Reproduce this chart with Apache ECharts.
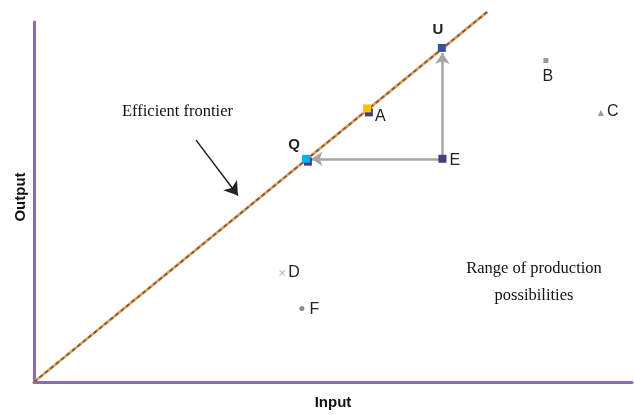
<!DOCTYPE html>
<html>
<head>
    <meta charset="utf8">
    <title>Efficient frontier</title>
    <script src="https://cdn.jsdelivr.net/npm/echarts@6/dist/echarts.min.js"></script>
</head>
<body style="margin:0">
    <div id="main" style="width:634px;height:415px;"></div>
    <script type="text/javascript">
    // frontier from origin out past the top of the axis
    var frontier = [[0, 0], [75.8, 102.8]];
    // [x, y, name]
    var pointsQ = [[45.5, 62.0, 'Q']];
    var pointsU = [[68.2, 92.8, 'U']];
    var pointsA = [[55.7, 76.0, 'A']];
    var pointsDark = [[56.0, 74.9, ''], [45.8, 61.2, ''], [68.3, 62.0, 'E']];
    var pointsB = [[85.6, 89.3, 'B']];
    var pointsC = [[94.8, 74.7, 'C']];
    var pointsD = [[41.5, 30.3, 'D']];
    var pointsF = [[44.8, 20.4, 'F']];
    // grey arrows out of E
    var arrows = [
        [[68.3, 62.0], [46.4, 62.0]],
        [[68.3, 62.0], [68.3, 91.4]]
    ];
    // black pointer under "Efficient frontier"
    var pointer = [[27.1, 67.2], [34.1, 51.8]];

    var myChart = echarts.init(document.getElementById('main'));

    var letter = { color: '#222', fontSize: 16, fontFamily: 'Liberation Sans' };
    function scatter(data, symbol, size, color, pos, extra) {
        return {
            type: 'scatter', data: data, symbol: symbol, symbolSize: size,
            itemStyle: { color: color, opacity: 1 }, z: 5,
            label: Object.assign({ show: true, position: pos, distance: 3, formatter: function (p) { return p.data[2]; } }, letter, extra || {})
        };
    }

    option = {
        animation: false,
        grid: { left: 34, right: 2, top: 22, bottom: 30 },
        xAxis: {
            type: 'value', min: 0, max: 100,
            name: 'Input', nameLocation: 'middle', nameGap: 13,
            nameTextStyle: { fontFamily: 'Liberation Sans', fontWeight: 'bold', fontSize: 15, color: '#111' },
            axisLine: { show: true, lineStyle: { color: '#8A6BB5', width: 3 } },
            axisTick: { show: false }, axisLabel: { show: false }, splitLine: { show: false }
        },
        yAxis: {
            type: 'value', min: 0, max: 100,
            name: 'Output', nameLocation: 'middle', nameGap: 6,
            nameTextStyle: { fontFamily: 'Liberation Sans', fontWeight: 'bold', fontSize: 15, color: '#111', padding: [0, 0, 0, 10] },
            axisLine: { show: true, lineStyle: { color: '#8A6BB5', width: 3 } },
            axisTick: { show: false }, axisLabel: { show: false }, splitLine: { show: false }
        },
        graphic: [
            { type: 'text', left: 122, top: 103, style: { text: 'Efficient frontier', font: '16.5px "Liberation Serif"', fill: '#111' } },
            { type: 'text', x: 534, y: 255, style: { text: 'Range of production\npossibilities', font: '16.5px "Liberation Serif"', fill: '#111', textAlign: 'center', lineHeight: 27 } }
        ],
        series: [
            { type: 'line', data: frontier, clip: false, symbol: 'none', z: 2,
              lineStyle: { color: '#D9A46A', width: 2.8 } },
            { type: 'line', data: frontier, clip: false, symbol: 'none', z: 3,
              lineStyle: { color: '#8A5A2E', width: 1.8, type: [4, 3] } },
            { type: 'lines', coordinateSystem: 'cartesian2d', z: 4,
              symbol: ['none', 'arrow'], symbolSize: 11,
              lineStyle: { color: '#A6A6A6', width: 2.5, opacity: 1 },
              data: arrows.map(function (a) { return { coords: a }; }) },
            { type: 'lines', coordinateSystem: 'cartesian2d', z: 4,
              symbol: ['none', 'arrow'], symbolSize: 13,
              lineStyle: { color: '#222', width: 1.5, opacity: 1 },
              data: [{ coords: pointer }] },
            scatter(pointsDark, 'rect', 8, '#4B3A78', 'right', { offset: [0, 2] }),
            scatter(pointsQ, 'rect', 8, '#00B0F0', 'top', { fontWeight: 'bold', fontSize: 15, offset: [-12, 1] }),
            scatter(pointsU, 'rect', 8, '#2F5597', 'top', { fontWeight: 'bold', fontSize: 15, offset: [-4, -4] }),
            scatter(pointsA, 'rect', 8, '#FFC000', 'right', { offset: [1, 8] }),
            scatter(pointsB, 'rect', 5, '#999999', 'bottom', { offset: [2, 3] }),
            scatter(pointsC, 'triangle', 6, '#999999', 'right', { offset: [0, -1] }),
            scatter(pointsD, 'path://M0,1L1,0L5,4L9,0L10,1L6,5L10,9L9,10L5,6L1,10L0,9L4,5Z', 6, '#AAAAAA', 'right', { offset: [0, 0] }),
            scatter(pointsF, 'circle', 5, '#888888', 'right', { offset: [2, 1] })
        ]
    };
    myChart.setOption(option);
    </script>
</body>
</html>
